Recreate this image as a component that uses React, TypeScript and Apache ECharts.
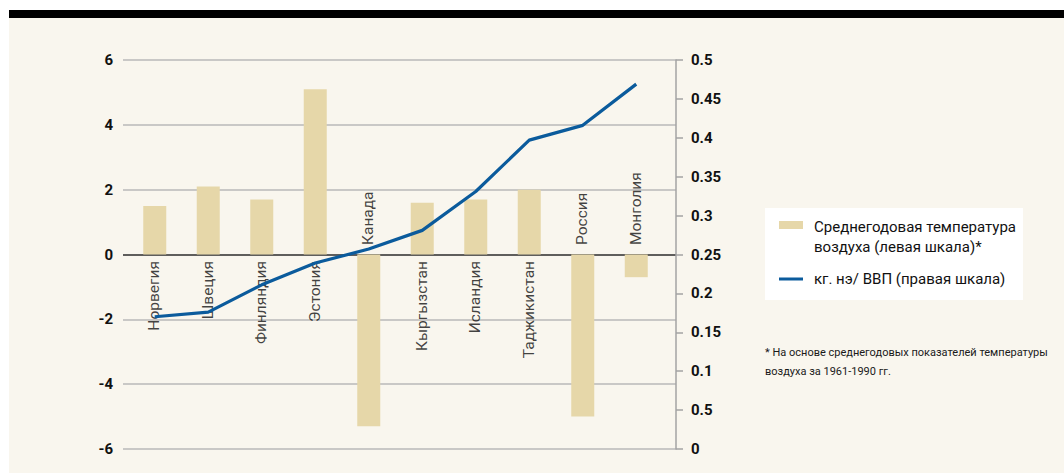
import React, { useEffect, useRef } from "react";
import * as echarts from "echarts";

const countries = ["Норвегия", "Швеция", "Финляндия", "Эстония", "Канада", "Кыргызстан", "Исландия", "Таджикистан", "Россия", "Монголия"];
const temperature = [1.5, 2.1, 1.7, 5.1, -5.3, 1.6, 1.7, 2.0, -5.0, -0.7];
const energyIntensity = [0.17, 0.176, 0.211, 0.239, 0.257, 0.281, 0.331, 0.397, 0.416, 0.469];
const rightTickLabels = ["0", "0.5", "0.1", "0.15", "0.2", "0.25", "0.3", "0.35", "0.4", "0.45", "0.5"];
const barName = "Среднегодовая температура\nвоздуха (левая шкала)*";
const lineName = "кг. нэ/ ВВП (правая шкала)";
const footnote = "* На основе среднегодовых показателей температуры\nвоздуха за 1961-1990 гг.";

const FONT = "Roboto, 'Liberation Sans', sans-serif";
const CREAM = "#f9f6ee";
const BAR = "#e6d7a9";
const LINE = "#0b5b9c";

export default function App() {
  const ref = useRef<HTMLDivElement>(null);
  useEffect(() => {
    document.body.style.margin = "0";
    const chart = echarts.init(ref.current!, null, { renderer: "svg" });
    const splitColors = [-6, -4, -2, 0, 2, 4, 6].map((v) => (v === 0 ? "#2b2b2b" : "#b9b9b9"));
    chart.setOption({
      animation: false,
      backgroundColor: "transparent",
      textStyle: { fontFamily: FONT },
      title: {
        text: footnote,
        left: 765,
        top: 343,
        padding: 0,
        textStyle: { fontSize: 11, fontWeight: "normal", lineHeight: 19, color: "#1a1a1a", fontFamily: FONT },
      },
      legend: {
        orient: "vertical",
        left: 765,
        top: 208,
        backgroundColor: "#ffffff",
        padding: [9, 7, 1, 14],
        itemWidth: 24,
        itemHeight: 40,
        itemGap: 2,
        selectedMode: false,
        itemStyle: { borderWidth: 0 },
        textStyle: { fontSize: 15, lineHeight: 20, color: "#111", fontFamily: FONT, padding: [0, 0, 0, 6] },
        data: [
          { name: barName, icon: "path://M0,0M0,4H24V12H0ZM0,40" },
          { name: lineName, icon: "path://M0,0M0,18.5H24V21.5H0ZM0,40" },
        ],
      },
      grid: [
        { left: 128, right: 401, top: 60, bottom: 24 },
        { left: 123, right: 388, top: 60, bottom: 24 },
      ],
      xAxis: [
        { type: "category", gridIndex: 0, data: countries, show: false },
        { type: "value", gridIndex: 1, show: false, min: 0, max: 1 },
      ],
      yAxis: [
        { type: "value", gridIndex: 0, min: -6, max: 6, interval: 2, show: false, splitLine: { show: false } },
        { type: "value", gridIndex: 0, min: 0, max: 0.5, interval: 0.05, show: false, splitLine: { show: false } },
        {
          type: "value", gridIndex: 1, position: "left", min: -6, max: 6, interval: 2,
          axisLine: { show: false }, axisTick: { show: false },
          axisLabel: { margin: 10, fontSize: 15, fontWeight: "bold", color: "#111", fontFamily: FONT },
          splitLine: { show: true, lineStyle: { color: splitColors, width: 1.5 } },
        },
        {
          type: "value", gridIndex: 1, position: "right", min: 0, max: 0.5, interval: 0.05,
          axisLine: { show: true, lineStyle: { color: "#a3a3a3", width: 1.5 } },
          axisTick: { show: true, length: 7, lineStyle: { color: "#a3a3a3", width: 1.5 } },
          axisLabel: {
            margin: 15, fontSize: 15, fontWeight: "bold", color: "#111", fontFamily: FONT,
            formatter: (v: number) => rightTickLabels[Math.round(v / 0.05)] ?? "",
          },
          splitLine: { show: false },
        },
      ],
      series: [
        {
          name: barName, type: "bar", xAxisIndex: 0, yAxisIndex: 0, barWidth: 23,
          data: temperature, itemStyle: { color: BAR }, color: BAR, z: 2,
        },
        {
          name: lineName, type: "line", xAxisIndex: 0, yAxisIndex: 1, data: energyIntensity,
          symbol: "none", color: LINE, itemStyle: { color: LINE },
          lineStyle: { color: LINE, width: 3.2 }, z: 4,
        },
        {
          name: "labels", type: "scatter", xAxisIndex: 0, yAxisIndex: 0, silent: true,
          symbolSize: 1, itemStyle: { color: "rgba(0,0,0,0)" }, z: 3,
          data: countries.map((c, i) => {
            const neg = temperature[i] < 0;
            return {
              name: c,
              value: [i, 0],
              label: {
                show: true, formatter: c, rotate: 90,
                position: neg ? [0, -9] : [0, 7],
                align: neg ? "left" : "right",
                verticalAlign: "middle",
                fontSize: 15.5, color: "#111", fontFamily: FONT,
              },
            };
          }),
        },
      ],
    });
    return () => chart.dispose();
  }, []);
  return (
    <div style={{ position: "relative", width: 1064, height: 473, background: "#fff", overflow: "hidden" }}>
      <div style={{ position: "absolute", left: 9, top: 10, right: 0, height: 8, background: "#000" }} />
      <div style={{ position: "absolute", left: 9, top: 18, right: 0, bottom: 0, background: CREAM }} />
      <div ref={ref} style={{ position: "absolute", left: 0, top: 0, width: 1064, height: 473 }} />
    </div>
  );
}
